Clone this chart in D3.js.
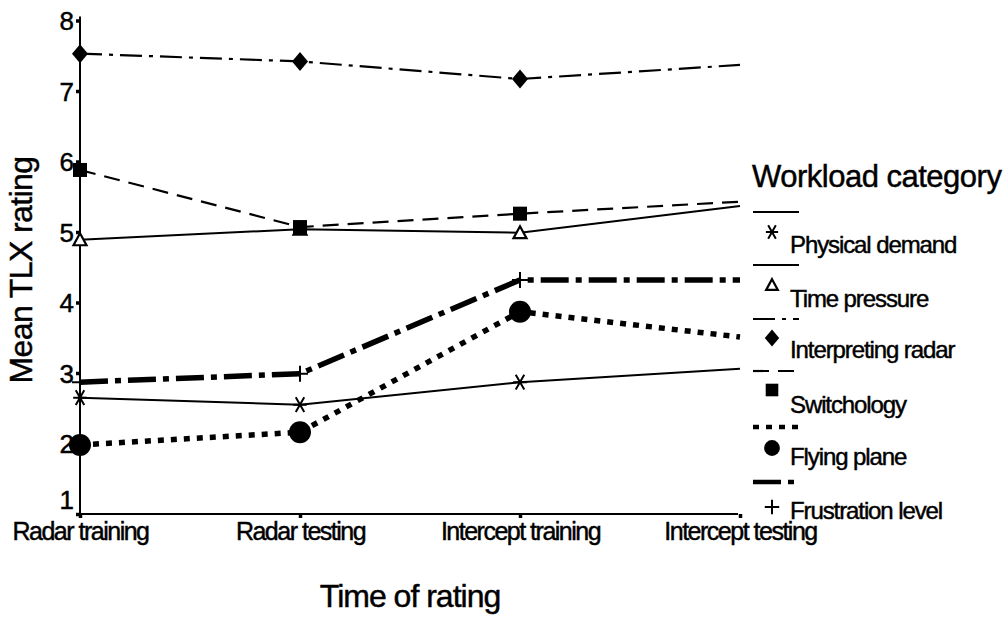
<!DOCTYPE html>
<html>
<head>
<meta charset="utf-8">
<script src="https://cdn.jsdelivr.net/npm/d3@7"></script>
<style>
  html, body { margin: 0; padding: 0; background: #fff; }
  svg { display: block; font-family: "Liberation Sans", Arial, sans-serif; }
  svg text { fill: #000; stroke: #000; stroke-width: 0.45px; }
</style>
</head>
<body>
<svg id="chart" width="1006" height="617"></svg>
<script>
// ---- Data ----
const categories = ["Radar training", "Radar testing", "Intercept training", "Intercept testing"];
const yTickValues = [1, 2, 3, 4, 5, 6, 7, 8];
const seriesNames = ["Physical demand", "Time pressure", "Interpreting radar", "Switchology", "Flying plane", "Frustration level"];
const physicalDemand    = [2.65, 2.55, 2.87, 3.06];
const timePressure      = [4.89, 5.04, 4.99, 5.37];
const interpretingRadar = [7.53, 7.42, 7.17, 7.37];
const switchology       = [5.88, 5.07, 5.26, 5.43];
const flyingPlane       = [1.98, 2.16, 3.87, 3.51];
const frustrationLevel  = [2.87, 2.99, 4.32, 4.32];

const seriesValues = [physicalDemand, timePressure, interpretingRadar, switchology, flyingPlane, frustrationLevel];
const styles = [
  { sym: "asterisk", width: 2,   dash: null },
  { sym: "triangle", width: 2,   dash: null },
  { sym: "diamond",  width: 2.2, dash: "22,7,4,7" },
  { sym: "square",   width: 2.2, dash: "16,9" },
  { sym: "circle",   width: 5.5, dash: "6,7" },
  { sym: "plus",     width: 5.5, dash: "28,7,6,7" }
];

const svg = d3.select("#chart");
const x = d3.scalePoint().domain(categories).range([80, 740]);
const y = d3.scaleLinear().domain([1, 8]).range([514, 20.5]);

// ---- Axes ----
const yAxis = svg.append("g").attr("transform", "translate(80,0)")
  .call(d3.axisLeft(y).tickValues(yTickValues).tickFormat(d3.format("d")).tickSize(4).tickPadding(2));
yAxis.select(".domain").attr("d", `M0,${y(8) - 4}V${y(1)}`).attr("stroke-width", 2);
yAxis.selectAll(".tick line").attr("stroke-width", 3.5);
yAxis.selectAll(".tick text").attr("font-size", 26).attr("font-family", "Liberation Sans, Arial, sans-serif")
  .attr("dy", d => d === 1 ? "-0.22em" : "0.36em");

const xAxis = svg.append("g").attr("transform", "translate(0,514)")
  .call(d3.axisBottom(x).tickSize(4).tickPadding(2));
xAxis.select(".domain").attr("d", "M80,0H738").attr("stroke-width", 2);
xAxis.selectAll(".tick line").attr("stroke-width", 3.5);
xAxis.selectAll(".tick text").attr("font-size", 25).attr("letter-spacing", -1.5)
  .attr("font-family", "Liberation Sans, Arial, sans-serif")
  .attr("y", 26).attr("dy", null);

// Axis titles
svg.append("text").attr("x", 410).attr("y", 607).attr("text-anchor", "middle")
  .attr("font-size", 32).attr("letter-spacing", -1).text("Time of rating");
svg.append("text").attr("transform", "translate(32,270) rotate(-90)").attr("text-anchor", "middle")
  .attr("font-size", 32).attr("letter-spacing", -0.6).text("Mean TLX rating");

// ---- Symbols ----
function drawSymbol(g, type, cx, cy, scale) {
  const s = scale || 1;
  if (type === "diamond") {
    g.append("path").attr("d", `M${cx},${cy - 9.5 * s}L${cx + 8 * s},${cy}L${cx},${cy + 9.5 * s}L${cx - 8 * s},${cy}Z`).attr("fill", "#000");
  } else if (type === "square") {
    g.append("rect").attr("x", cx - 7 * s).attr("y", cy - 7 * s).attr("width", 14 * s).attr("height", 14 * s).attr("fill", "#000");
  } else if (type === "circle") {
    g.append("circle").attr("cx", cx).attr("cy", cy).attr("r", 11 * s).attr("fill", "#000");
  } else if (type === "triangle") {
    g.append("path").attr("d", `M${cx},${cy - 6.5 * s}L${cx + 6.5 * s},${cy + 5.5 * s}L${cx - 6.5 * s},${cy + 5.5 * s}Z`)
      .attr("fill", "#fff").attr("stroke", "#000").attr("stroke-width", 2.2);
  } else if (type === "asterisk") {
    const r = 8.5 * s;
    const dx = r * Math.cos(Math.PI / 3), dy = r * Math.sin(Math.PI / 3);
    g.append("path").attr("d", `M${cx - r * 0.8},${cy}H${cx + r * 0.8}M${cx - dx},${cy - dy}L${cx + dx},${cy + dy}M${cx - dx},${cy + dy}L${cx + dx},${cy - dy}`)
      .attr("stroke", "#000").attr("stroke-width", 2).attr("fill", "none");
  } else if (type === "plus") {
    const r = 8 * s;
    g.append("path").attr("d", `M${cx - r},${cy}H${cx + r}M${cx},${cy - r}V${cy + r}`)
      .attr("stroke", "#000").attr("stroke-width", 2).attr("fill", "none");
  }
}

// ---- Lines ----
const line = d3.line().x((d, i) => x(categories[i])).y(d => y(d));
const plot = svg.append("g");
seriesValues.forEach((vals, k) => {
  const st = styles[k];
  plot.append("path").datum(vals).attr("d", line)
    .attr("fill", "none").attr("stroke", "#000").attr("stroke-width", st.width)
    .attr("stroke-dasharray", st.dash);
});
seriesValues.forEach((vals, k) => {
  const st = styles[k];
  vals.forEach((v, i) => {
    if (i === vals.length - 1) return; // last point has no visible marker
    drawSymbol(plot, st.sym, x(categories[i]), y(v), 1);
  });
});

// ---- Legend ----
const legend = svg.append("g");
legend.append("text").attr("x", 752).attr("y", 187).attr("font-size", 31).attr("letter-spacing", -0.5)
  .text("Workload category");
const legendLineY = [212, 265, 319, 371, 427, 482];
const legendSymY = [232, 285, 338, 390, 448, 507];
const legendTextY = [253, 307, 358, 413, 465, 519];
seriesNames.forEach((name, k) => {
  const st = styles[k];
  legend.append("path").attr("d", `M753,${legendLineY[k]}H799`)
    .attr("stroke", "#000").attr("fill", "none").attr("stroke-width", st.width === 5.5 ? 4.5 : st.width)
    .attr("stroke-dasharray", st.dash);
  drawSymbol(legend, st.sym, 772, legendSymY[k], st.sym === "circle" ? 0.72 : 0.9);
  legend.append("text").attr("x", 790).attr("y", legendTextY[k]).attr("font-size", 24)
    .attr("letter-spacing", -1.1).text(name);
});
</script>
</body>
</html>
